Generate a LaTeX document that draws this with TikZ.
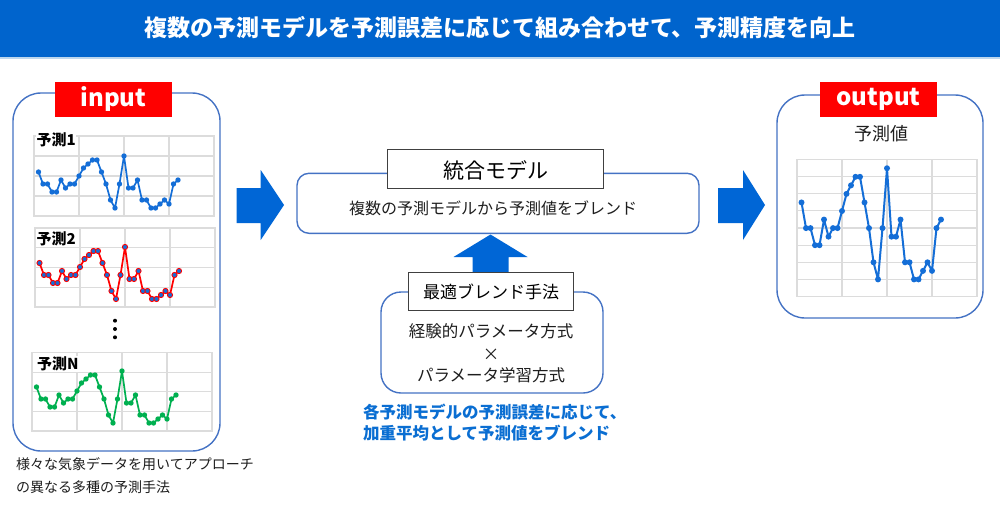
\documentclass[tikz,border=0pt]{standalone}
\usepackage{fontspec}
\setmainfont{Noto Sans CJK JP}
\definecolor{titleblue}{RGB}{0,100,205}
\definecolor{arrowblue}{RGB}{0,102,214}
\definecolor{boxblue}{RGB}{68,114,196}
\definecolor{lineblue}{RGB}{20,110,215}
\definecolor{gridgray}{RGB}{220,220,220}
\definecolor{pgreen}{RGB}{0,176,80}
\definecolor{capblue}{RGB}{10,110,210}
\definecolor{txt}{RGB}{30,30,30}
\definecolor{lightline}{RGB}{189,215,238}
\newcommand\dvals{5.5,4,4,3,3,4.5,3.5,4,4,5,6,6.5,7,7,5.5,4,2,1,4,7.5,3.5,3.5,4.5,2,2,1,1,1.5,2,1.5,4,4.5}
% #1 x, #2 y, #3 height, #4 rows, #5 unit, #6 line style, #7 dot style, #8 dot radius
\newcommand\mkchart[8]{%
 \begin{scope}[shift={(#1,#2)}]
  \draw[gridl] (0,0) rectangle (180,#3);
  \foreach \gx in {45,90,135} {\draw[gridl] (\gx,0) -- (\gx,#3);}
  \foreach \r in {2,...,#4} {\draw[gridl] (0,{(\r-1)*#3/#4}) -- (180,{(\r-1)*#3/#4});}
  \draw[#6] (4.5,{#3-5.5*#5}) \foreach \v [count=\i] in \dvals {-- ({4.5*\i},{#3-\v*#5})};
  \foreach \v [count=\i] in \dvals {\path[#7] ({4.5*\i},{#3-\v*#5}) circle[radius=#8];}
 \end{scope}}
\begin{document}
\begin{tikzpicture}[x=1pt,y=-1pt,
  gridl/.style={draw=gridgray, line width=1.2pt},
  line1/.style={draw=lineblue, line width=1.7pt, line join=round},
  dot1/.style={fill=lineblue},
  line2/.style={draw=red, line width=1.7pt, line join=round},
  dot2/.style={fill=lineblue, draw=red, line width=0.9pt},
  lineN/.style={draw=pgreen, line width=1.7pt, line join=round},
  dotN/.style={fill=pgreen},
  lineO/.style={draw=lineblue, line width=2pt, line join=round},
  panel/.style={draw=boxblue, line width=1.4pt, fill=white, inner sep=0pt},
  plainbox/.style={draw=black!75, line width=1.1pt, fill=white, inner sep=0pt},
  redlbl/.style={fill=red, text=white, inner sep=0pt, font=\fontsize{24}{28}\selectfont\bfseries},
  chartlbl/.style={fill=white, inner sep=0.5pt, anchor=west, text=black, font=\fontsize{15}{18}\selectfont\bfseries},
  blockarrow/.style={fill=arrowblue},
  t16/.style={text=txt, inner sep=0pt, font=\fontsize{16.5}{20}\selectfont},
]
\useasboundingbox (0,0) rectangle (1000,506);
\fill[white] (0,0) rectangle (1000,506);
% title
\fill[titleblue] (0,0) rectangle (1000,56.5);
\fill[lightline] (0,56.5) rectangle (1000,59);
\node[text=white, inner sep=0pt, font=\fontsize{23}{28}\selectfont\bfseries] (title) at (500,28) {複数の予測モデルを予測誤差に応じて組み合わせて、予測精度を向上};

% input panel
\node[panel, rounded corners=28pt, minimum width=207pt, minimum height=358pt] (inbox) at (116.5,272) {};
\node[redlbl, minimum width=117pt, minimum height=35pt] (inlbl) at (113.5,99) {input};
\mkchart{34}{136}{80}{4}{8}{line1}{dot1}{2.7}
\mkchart{35}{228}{79}{4}{8}{line2}{dot2}{2.6}
\mkchart{32}{352.7}{78.3}{4}{8}{lineN}{dotN}{2.7}
\node[chartlbl] (lbl1) at (36,139.5) {予測1};
\node[chartlbl] (lbl2) at (36,238.7) {予測2};
\node[chartlbl] (lblN) at (36.5,364) {予測N};
\fill[black] (115,320.7) circle[radius=2] (115,329) circle[radius=2] (115,337.3) circle[radius=2];
\node[anchor=west, text=txt, inner sep=0pt, font=\fontsize{14}{17}\selectfont] (cap1) at (16,464) {様々な気象データを用いてアプローチ};
\node[anchor=west, text=txt, inner sep=0pt, font=\fontsize{14}{17}\selectfont] (cap2) at (16,487) {の異なる多種の予測手法};

% arrows
\fill[blockarrow] (236.7,188) -- (260.7,188) -- (260.7,170) -- (284,205) -- (260.7,240) -- (260.7,223) -- (236.7,223) -- cycle;
\fill[blockarrow] (718,188) -- (743,188) -- (743,170) -- (765,205) -- (743,240) -- (743,223) -- (718,223) -- cycle;

% integrated model
\node[panel, rounded corners=12pt, minimum width=402pt, minimum height=60pt] (blend) at (498,203.3) {};
\node[plainbox, minimum width=215.6pt, minimum height=39pt] (model) at (495.5,168.8) {};
\node[text=black, inner sep=0pt, font=\fontsize{21}{25}\selectfont] (modeltxt) at (495.5,170.5) {統合モデル};
\node[t16, font=\fontsize{16}{20}\selectfont] (blendtxt) at (493,208.3) {複数の予測モデルから予測値をブレンド};

% up arrow
\fill[blockarrow] (472.5,272.5) -- (472.5,257) -- (453.5,257) -- (490.5,234.5) -- (527.5,257) -- (508.5,257) -- (508.5,272.5) -- cycle;

% best blend method
\node[panel, rounded corners=20pt, minimum width=222pt, minimum height=101pt] (method) at (492,342.5) {};
\node[plainbox, minimum width=164.6pt, minimum height=38pt] (best) at (491,291.7) {};
\node[text=black, inner sep=0pt, font=\fontsize{17}{20}\selectfont] (besttxt) at (491,292.3) {最適ブレンド手法};
\node[t16] (m1) at (491,331.7) {経験的パラメータ方式};
\node[t16] (m2) at (491,355) {×};
\node[t16] (m3) at (491,375.5) {パラメータ学習方式};
\node[anchor=west, text=capblue, inner sep=0pt, font=\fontsize{16.5}{20}\selectfont\bfseries] (bl1) at (363,411.7) {各予測モデルの予測誤差に応じて、};
\node[anchor=west, text=capblue, inner sep=0pt, font=\fontsize{16.5}{20}\selectfont\bfseries] (bl2) at (363,432.7) {加重平均として予測値をブレンド};

% output panel
\node[panel, rounded corners=28pt, minimum width=206pt, minimum height=223pt] (outbox) at (880,206.5) {};
\node[redlbl, minimum width=117pt, minimum height=35pt] (outlbl) at (878.5,99) {output};
\node[text=txt, inner sep=0pt, font=\fontsize{18}{22}\selectfont] (outtitle) at (881.7,133.3) {予測値};
\mkchart{797}{159.5}{137}{8}{17.1}{lineO}{dot1}{3}
\end{tikzpicture}
\end{document}
